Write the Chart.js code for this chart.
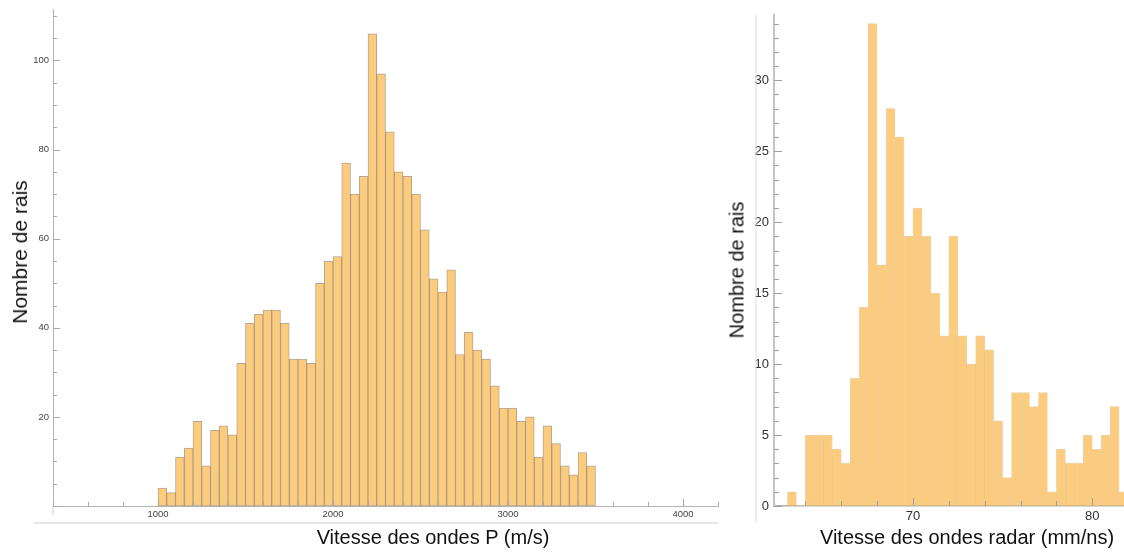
<!DOCTYPE html>
<html>
<head>
<meta charset="utf-8">
<script src="https://cdn.jsdelivr.net/npm/chart.js@4.4.0/dist/chart.umd.min.js"></script>
<style>
  html, body { margin: 0; padding: 0; background: #fff; overflow: hidden; width: 1124px; height: 553px; }
  .panel { position: absolute; top: 0; height: 553px; }
  .caption {
    position: absolute;
    font-family: "Liberation Sans", Arial, sans-serif;
    font-size: 20px;
    color: #111;
    white-space: nowrap;
    transform: translate(-50%, -50%);
  }
  .caption.vertical { transform: translate(-50%, -50%) rotate(-90deg); }
</style>
</head>
<body>
<div class="panel" style="left:0;width:730px"><canvas id="pChart"></canvas></div>
<div class="panel" style="left:730px;width:430px"><canvas id="radarChart"></canvas></div>

<div class="caption" style="left:433px;top:537px">Vitesse des ondes P (m/s)</div>
<div class="caption vertical" style="left:20px;top:252px;font-size:21px">Nombre de rais</div>
<div class="caption" style="left:967px;top:537px">Vitesse des ondes radar (mm/ns)</div>
<div class="caption vertical" style="left:737px;top:270px">Nombre de rais</div>

<script>
// P-wave velocities: 50 m/s bins starting at 1000 m/s
const pStart = 1000;
const pWidth = 50;
const pCounts = [
  4, 3, 11, 13, 19, 9, 17, 18, 16, 32,
  41, 43, 44, 44, 41, 33, 33, 32, 50, 55,
  56, 77, 70, 74, 106, 97, 84, 75, 74, 70,
  62, 51, 48, 53, 34, 39, 35, 33, 27, 22,
  22, 19, 20, 11, 18, 14, 9, 7, 12, 9
];
const pXTicks = [1000, 2000, 3000, 4000];
const pYTicks = [20, 40, 60, 80, 100];

// radar velocities: 0.5 mm/ns bins starting at 63 mm/ns
const radarStart = 63;
const radarWidth = 0.5;
const radarCounts = [
  1, 0, 5, 5, 5, 4, 3, 9, 14, 34,
  17, 28, 26, 19, 21, 19, 15, 12, 19, 12,
  10, 12, 11, 6, 2, 8, 8, 7, 8, 1,
  4, 3, 3, 5, 4, 5, 7, 1
];
const radarXTicks = [70, 80];
const radarYTicks = [0, 5, 10, 15, 20, 25, 30];

function toBins(start, width, counts) {
  return counts.map((c, i) => ({ x: start + width * (i + 0.5), y: c }));
}

const plainLabel = v => String(v);

// small tick marks pointing into the plot, major and minor
const tickMarks = {
  id: 'tickMarks',
  afterDatasetsDraw(chart, args, o) {
    const { ctx, chartArea, scales } = chart;
    const isMult = (v, step) => Math.abs(v / step - Math.round(v / step)) < 1e-6;
    ctx.save();
    ctx.strokeStyle = o.color;
    ctx.lineWidth = 1;
    for (let v = 0; v <= scales.y.max; v += o.yMinor) {
      const y = Math.round(scales.y.getPixelForValue(v)) + 0.5;
      const len = isMult(v, o.yMajor) ? o.majorLen : o.minorLen;
      ctx.beginPath();
      ctx.moveTo(chartArea.left, y);
      ctx.lineTo(chartArea.left + len, y);
      ctx.stroke();
    }
    const first = Math.ceil(scales.x.min / o.xMinor) * o.xMinor;
    for (let v = first; v <= scales.x.max; v += o.xMinor) {
      const x = Math.round(scales.x.getPixelForValue(v)) + 0.5;
      const len = isMult(v, o.xMajor) ? o.majorLen : o.minorLen;
      ctx.beginPath();
      ctx.moveTo(x, chartArea.bottom);
      ctx.lineTo(x, chartArea.bottom - len);
      ctx.stroke();
    }
    ctx.restore();
  }
};

// extra frame lines around each panel
const frameLines = {
  id: 'frameLines',
  afterDraw(chart, args, o) {
    const { ctx, chartArea } = chart;
    ctx.save();
    ctx.strokeStyle = o.color;
    ctx.lineWidth = 1;
    (o.lines || []).forEach(fn => {
      const [x1, y1, x2, y2] = fn(chartArea);
      ctx.beginPath();
      ctx.moveTo(x1, y1);
      ctx.lineTo(x2, y2);
      ctx.stroke();
    });
    ctx.restore();
  }
};

Chart.register(tickMarks, frameLines);

new Chart(document.getElementById('pChart'), {
  type: 'bar',
  data: {
    datasets: [{
      data: toBins(pStart, pWidth, pCounts),
      backgroundColor: 'rgb(252, 203, 123)',
      borderColor: 'rgba(120, 95, 60, 0.55)',
      borderWidth: 1,
      borderSkipped: false,
      barPercentage: 1,
      categoryPercentage: 1
    }]
  },
  options: {
    responsive: true,
    maintainAspectRatio: false,
    animation: false,
    layout: { padding: { left: 0, top: 8, right: 12, bottom: 0 } },
    scales: {
      x: {
        type: 'linear',
        min: 400,
        max: 4200,
        offset: false,
        grid: { display: false, drawTicks: false, offset: false },
        border: { display: true, color: '#b4b4b4', width: 1 },
        afterBuildTicks: s => { s.ticks = pXTicks.map(v => ({ value: v })); },
        ticks: { padding: 3, color: '#444', callback: plainLabel, font: { family: 'Liberation Sans', size: 9.5 } },
        afterFit: s => { s.height = 47; }
      },
      y: {
        min: 0,
        max: 111.4,
        grid: { display: false, drawTicks: false },
        border: { display: true, color: '#b4b4b4', width: 1 },
        afterBuildTicks: s => { s.ticks = pYTicks.map(v => ({ value: v })); },
        ticks: { padding: 4, color: '#444', callback: plainLabel, font: { family: 'Liberation Sans', size: 9.5 } },
        afterFit: s => { s.width = 53; }
      }
    },
    plugins: {
      legend: { display: false },
      tooltip: { enabled: false },
      tickMarks: { color: '#a8a8a8', xMinor: 200, xMajor: 1000, yMinor: 5, yMajor: 20, majorLen: 7, minorLen: 4 },
      frameLines: {
        color: '#cfcfcf',
        lines: [
          a => [a.left, a.bottom, a.left, a.bottom + 9],
          a => [a.left - 19, a.bottom + 17, a.right, a.bottom + 17]
        ]
      }
    }
  }
});

new Chart(document.getElementById('radarChart'), {
  type: 'bar',
  data: {
    datasets: [{
      data: toBins(radarStart, radarWidth, radarCounts),
      backgroundColor: 'rgb(252, 204, 126)',
      borderColor: 'rgba(232, 176, 98, 0.6)',
      borderWidth: c => (c.raw && c.raw.y > 0 ? 1 : 0),
      borderSkipped: false,
      barPercentage: 1,
      categoryPercentage: 1
    }]
  },
  options: {
    responsive: true,
    maintainAspectRatio: false,
    animation: false,
    layout: { padding: { left: 0, top: 15, right: 0, bottom: 0 } },
    scales: {
      x: {
        type: 'linear',
        min: 62.25,
        max: 83.78,
        offset: false,
        grid: { display: false, drawTicks: false, offset: false },
        border: { display: true, color: '#b0b0b0', width: 1.5 },
        afterBuildTicks: s => { s.ticks = radarXTicks.map(v => ({ value: v })); },
        ticks: { padding: 3, color: '#333', callback: plainLabel, font: { family: 'Liberation Sans', size: 13 } },
        afterFit: s => { s.height = 47; }
      },
      y: {
        min: 0,
        max: 34.6,
        grid: { display: false, drawTicks: false },
        border: { display: true, color: '#c4c4c4', width: 2 },
        afterBuildTicks: s => { s.ticks = radarYTicks.map(v => ({ value: v })); },
        ticks: { padding: 5, color: '#333', callback: plainLabel, font: { family: 'Liberation Sans', size: 13 } },
        afterFit: s => { s.width = 44; }
      }
    },
    plugins: {
      legend: { display: false },
      tooltip: { enabled: false },
      tickMarks: { color: '#a0a0a0', xMinor: 2, xMajor: 10, yMinor: 1, yMajor: 5, majorLen: 8, minorLen: 5 },
      frameLines: {
        color: '#dedede',
        lines: [
          a => [a.left - 18, a.top, a.left - 18, a.bottom + 17]
        ]
      }
    }
  }
});
</script>
</body>
</html>
